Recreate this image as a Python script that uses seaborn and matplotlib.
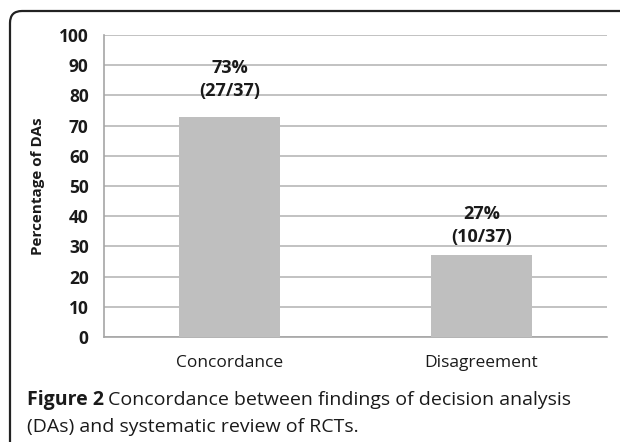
"""Figure 2: concordance between decision analyses and systematic reviews."""

import matplotlib
matplotlib.use("Agg")
import matplotlib.pyplot as plt
import pandas as pd
import seaborn as sns
from matplotlib.patches import FancyBboxPatch

categories = ["Concordance", "Disagreement"]
percentages = [73, 27]
counts = ["27/37", "10/37"]
y_ticks = [0, 10, 20, 30, 40, 50, 60, 70, 80, 90, 100]

BAR_COLOR = "#bfbfbf"
GRID_COLOR = "#bdbdbd"
TEXT_COLOR = "#1a1a1a"

sns.set_theme(style="white")
plt.rcParams["font.family"] = ["Open Sans", "DejaVu Sans"]

df = pd.DataFrame({"category": categories, "pct": percentages})

fig = plt.figure(figsize=(6.2, 4.42), dpi=100)
ax = fig.add_axes([104 / 620, 105 / 442, 503 / 620, 302 / 442])

sns.barplot(data=df, x="category", y="pct", color=BAR_COLOR, width=0.4,
            saturation=1, linewidth=0, ax=ax, zorder=3)

ax.set_ylim(0, 100)
ax.set_xlim(-0.5, 1.5)
ax.set_yticks(y_ticks)
ax.yaxis.grid(True, color=GRID_COLOR, linewidth=1.3, zorder=0)
ax.set_axisbelow(True)

for side in ("top", "right"):
    ax.spines[side].set_visible(False)
for side in ("left", "bottom"):
    ax.spines[side].set_color("#a6a6a6")
    ax.spines[side].set_linewidth(1.2)

ax.tick_params(axis="y", length=5, width=1.2, color="#a6a6a6", pad=6,
               labelsize=12.5, labelcolor=TEXT_COLOR)
for lbl in ax.get_yticklabels():
    lbl.set_fontweight("bold")

# category separators as minor ticks, labels centred without ticks
ax.set_xticks([-0.5, 0.5, 1.5], minor=True)
ax.tick_params(axis="x", which="minor", length=6, width=1.2, color="#a6a6a6")
ax.tick_params(axis="x", which="major", length=0, pad=13, labelsize=12.5,
               labelcolor=TEXT_COLOR)

ax.set_xlabel("")
ax.set_ylabel("Percentage of DAs", fontsize=11, fontweight="bold",
              color=TEXT_COLOR)
ax.yaxis.set_label_coords(-0.117, 0.5)

# value labels above bars
offsets = [12, 7]
for i, (p, c) in enumerate(zip(percentages, counts)):
    ax.annotate(f"{p}%\n({c})", xy=(i, p), xytext=(0, offsets[i]),
                textcoords="offset points", ha="center", va="bottom",
                fontsize=13, fontweight="bold", color=TEXT_COLOR,
                linespacing=1.35)

# caption with bold "Figure 2" prefix
cap_size = 14
fig_label = fig.text(27 / 620, 1 - 400 / 442, "Figure 2", fontsize=cap_size,
                     fontweight="bold", color=TEXT_COLOR, va="center")
fig.canvas.draw()
bb = fig_label.get_window_extent()
fig.text((bb.x1 + 4) / 620, 1 - 400 / 442,
         "Concordance between findings of decision analysis",
         fontsize=cap_size, color=TEXT_COLOR, va="center")
fig.text(27 / 620, 1 - 427 / 442, "(DAs) and systematic review of RCTs.",
         fontsize=cap_size, color=TEXT_COLOR, va="center")

# frame with rounded top-left corner
frame = FancyBboxPatch((10, -40), 680, 471, boxstyle="round,pad=0,rounding_size=12",
                       transform=None, facecolor="none", edgecolor="#222222",
                       linewidth=1.6, zorder=10)
fig.patches.append(frame)

fig.savefig("out.png", dpi=100)
